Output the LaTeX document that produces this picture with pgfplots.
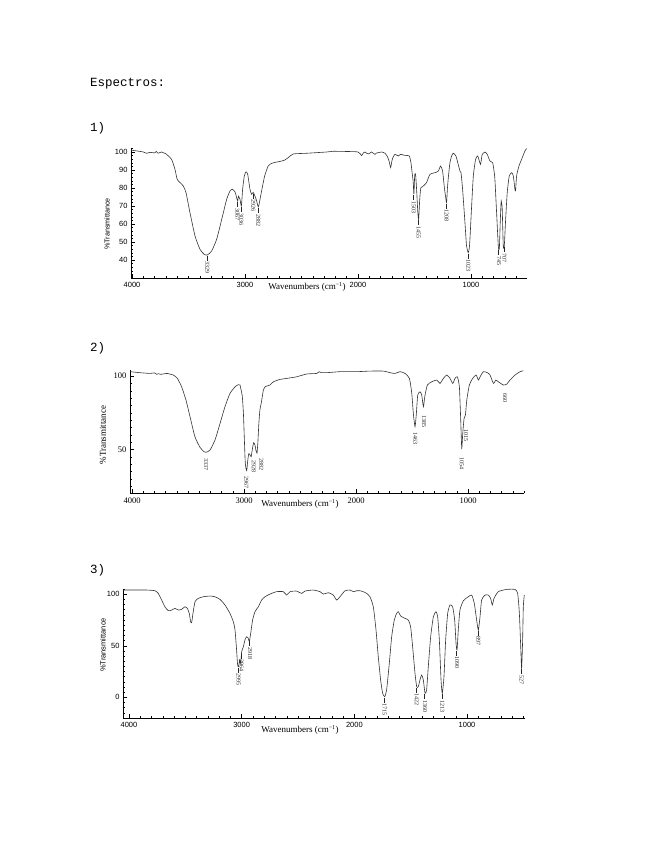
\documentclass[border=0pt]{standalone}
\usepackage{fontspec}
\setmainfont{Liberation Serif}
\setsansfont{Liberation Sans}
\setmonofont{Liberation Mono}
\usepackage{pgfplots}
\pgfplotsset{compat=1.18}
\pgfplotsset{
  irbase/.style={
    scale only axis,
    anchor=south west,
    x dir=reverse,
    axis x line=bottom,
    axis y line=left,
    axis line style={-, line width=0.5pt, black},
    tick align=inside,
    major tick length=4pt,
    minor tick length=2pt,
    tick style={line width=0.4pt, black},
    xtick={1000,2000,3000,4000},
    xticklabels={1000,2000,3000,4000},
    minor xtick={500,600,...,4000},
    scaled x ticks=false,
    scaled y ticks=false,
    clip=false,
    /pgf/number format/assume math mode=true,
  },
  spec/.style={line width=0.6pt, black!80, smooth, tension=0.35, mark=none},
}
\tikzset{
  lab/.style={rotate=-90, anchor=west, inner sep=0.4pt, font=\fontsize{6}{7}\selectfont, text=black!85},
}
\newcommand{\pkln}{\rule[0.22em]{5pt}{0.4pt}\,}
\begin{document}
\begin{tikzpicture}
\path[use as bounding box] (0pt,0pt) rectangle (655pt,848pt);
\node[anchor=base west, inner sep=0, font=\ttfamily\fontsize{12.5}{14}\selectfont] at (90pt,761pt) {Espectros:};
\node[anchor=base west, inner sep=0, font=\ttfamily\fontsize{12.5}{14}\selectfont] at (90pt,716pt) {1)};
\node[anchor=base west, inner sep=0, font=\ttfamily\fontsize{12.5}{14}\selectfont] at (90pt,496pt) {2)};
\node[anchor=base west, inner sep=0, font=\ttfamily\fontsize{12.5}{14}\selectfont] at (90pt,274pt) {3)};

% ---------------- Spectrum 1 ----------------
\begin{axis}[irbase, at={(131pt,570pt)}, width=396pt, height=129.6pt,
  xmin=504, xmax=4009, ymin=30, ymax=102,
  ytick={40,50,...,100}, minor ytick={30,32,...,102},
  ticklabel style={font=\sffamily\fontsize{7.5}{8}\selectfont},
  xticklabel style={yshift=-1pt},
]
\addplot[spec] coordinates {
(4009,101) (3959,100.6) (3900,100) (3870,99.3) (3840,99.8) (3800,99.5) (3785,100.3) (3770,99.3)
(3740,100) (3723,99.6) (3700,99) (3650,95.9) (3620,90.4) (3600,84.8) (3575,83) (3546,81.1)
(3522,77.4) (3487,66.3) (3442,53.3) (3398,45.9) (3360,43.1) (3333,42.8) (3295,45) (3251,51.5)
(3206,62.6) (3162,73.7) (3133,78.3) (3112,79.3) (3088,77.8) (3074,74.6) (3065,72.8) (3058,75.5)
(3050,74.5) (3044,73.7) (3032,70) (3021,79.3) (3006,86.7) (2991,89) (2976,87.6) (2956,79.3)
(2941,76.5) (2928,77.6) (2915,76) (2900,73.5) (2882,69.5) (2870,72.8) (2850,79.3) (2826,86.7)
(2795,92.2) (2764,93.7) (2720,94.4) (2675,95) (2646,95.6) (2617,96.9) (2572,98.9) (2454,99.3)
(2277,100) (2218,100.4) (2041,100.2) (2000,100) (1980,99) (1967,98) (1952,99.5) (1938,100)
(1920,99.2) (1908,98.9) (1890,99.6) (1879,100) (1862,99.2) (1849,98.7) (1835,99.5) (1820,99.6)
(1791,100) (1761,99.3) (1740,97.5) (1725,95) (1711,91.3) (1700,95) (1690,97) (1673,98.7)
(1643,97.8) (1623,98.7) (1584,98.1) (1546,97.8) (1531,94) (1520,88) (1512,84) (1505,76.5)
(1498,87) (1490,87.5) (1480,78) (1470,66) (1463,62.6) (1455,72) (1450,76.5) (1443,80.2)
(1422,81.1) (1393,83) (1363,87.6) (1319,88.5) (1289,89.4) (1269,92.2) (1251,89.4) (1235,80)
(1224,75) (1216,71.9) (1208,80) (1200,86) (1186,94.1) (1170,98) (1156,99.3) (1133,97.8)
(1109,92.2) (1095,89) (1088,88.5) (1074,79.3) (1053,60.7) (1039,47.8) (1024,44.1) (1015,46.5)
(1009,51.5) (994,70) (979,86.7) (959,95.9) (941,97.8) (926,95) (915,93.1) (905,97) (900,98.7)
(876,100) (856,98.7) (832,95) (808,94.1) (795,89) (788,84.8) (773,66.3) (758,47.8) (749,46)
(741,60.7) (735,70) (732,72.8) (727,71) (723,68) (714,47.8) (705,47.8) (693,62.6) (679,77.4)
(661,86.7) (640,88.5) (625,86.7) (611,79.3) (605,78.5) (596,86.7) (575,92.2) (552,95.9)
(522,100.6) (507,101.9)
};
\node[lab] at (axis cs:3333,42.6) {\pkln 3329};
\node[lab] at (axis cs:3067,72.5) {\pkln 3067};
\node[lab] at (axis cs:3032,69.7) {\pkln 3036};
\node[lab] at (axis cs:2926,77.0) {\pkln 2926};
\node[lab] at (axis cs:2882,69.2) {\pkln 2882};
\node[lab] at (axis cs:1505,76.2) {\pkln 1503};
\node[lab] at (axis cs:1463,62.3) {\pkln 1455};
\node[lab] at (axis cs:1216,71.6) {\pkln 1208};
\node[lab] at (axis cs:1024,43.8) {\pkln 1023};
\node[lab] at (axis cs:752,45.7) {\pkln 745};
\node[lab] at (axis cs:705,47.5) {\pkln 707};
\end{axis}
\node[font=\fontsize{9}{10}\selectfont] at (307pt,561pt) {Wavenumbers (cm\textsuperscript{−1})};
\node[rotate=90, font=\sffamily\fontsize{7.2}{8}\selectfont] at (107pt,624pt) {\%Transmittance};

% ---------------- Spectrum 2 ----------------
\begin{axis}[irbase, at={(130pt,354.6pt)}, width=394pt, height=123.2pt,
  xmin=500, xmax=4018, ymin=20, ymax=104,
  ytick={50,100}, minor ytick={20,25,...,100},
  ticklabel style={font=\fontsize{8.5}{9}\selectfont},
  xticklabel style={yshift=-1pt},
]
\addplot[spec] coordinates {
(4017,103) (3929,102.3) (3839,101.8) (3800,102.2) (3780,101.2) (3765,101.6) (3740,101.2)
(3690,101.8) (3631,100.7) (3595,98.4) (3557,92.7) (3518,83.6) (3482,72.3) (3438,58.6)
(3393,51.4) (3357,48.4) (3339,48) (3304,49.5) (3259,56.4) (3214,67.7) (3170,79.1) (3125,88.2)
(3080,92.7) (3051,94.1) (3036,93.9) (3030,92) (3015,86) (3005,74) (2996,55) (2988,40)
(2976,35.5) (2968,41.5) (2958,47) (2948,46.5) (2936,45) (2926,50) (2914,54.5) (2902,53)
(2894,49.5) (2884,47.5) (2876,55) (2868,67) (2858,77) (2845,82) (2827,90.5) (2810,92.8)
(2798,93.2) (2768,93.9) (2738,96.1) (2679,97.7) (2619,98.4) (2530,99.5) (2441,101.4)
(2351,101.8) (2330,103) (2310,102.4) (2262,102.3) (2143,103) (1994,103) (1874,103.4)
(1755,103.4) (1696,102.3) (1651,101.8) (1607,103) (1562,101.8) (1523,98.4) (1502,88.2)
(1488,74.5) (1473,65.5) (1461,74.5) (1449,87) (1428,89.3) (1413,87) (1398,79.1) (1386,85.9)
(1363,93.9) (1324,96.1) (1279,97.3) (1250,95) (1220,98.4) (1190,100.7) (1160,98.4) (1136,95)
(1116,98.4) (1095,99.5) (1077,92.7) (1065,70) (1056,50.7) (1047,60.9) (1035,71.1) (1023,73.4)
(1011,83.6) (988,93.9) (958,98.4) (928,100.7) (907,97.3) (892,99.5) (863,103) (827,102.3)
(803,100.7) (773,95) (752,97.3) (729,96.1) (684,93.9) (654,94.5) (625,97.3) (580,100.7)
(535,103) (506,103.6)
};
\node[lab] at (axis cs:3339,44) {3337};
\node[lab] at (axis cs:2980,32) {2967};
\node[lab] at (axis cs:2912,43) {2928};
\node[lab] at (axis cs:2846,44) {2882};
\node[lab] at (axis cs:1471,62) {1463};
\node[lab] at (axis cs:1392,73.4) {1385};
\node[lab] at (axis cs:1056,45) {1054};
\node[lab] at (axis cs:1017,64.3) {1015};
\node[lab] at (axis cs:669,88.2) {660};
\end{axis}
\node[font=\fontsize{9}{10}\selectfont] at (300pt,344pt) {Wavenumbers (cm\textsuperscript{−1})};
\node[rotate=90, font=\fontsize{9}{10}\selectfont] at (103pt,413pt) {\%Transmittance};

% ---------------- Spectrum 3 ----------------
\begin{axis}[irbase, at={(123pt,130pt)}, width=402pt, height=129.1pt,
  xmin=486, xmax=4053, ymin=-20, ymax=105,
  ytick={0,50,100}, minor ytick={-20,-15,...,105},
  ticklabel style={font=\sffamily\fontsize{7.5}{8}\selectfont},
  xticklabel style={yshift=-1pt},
]
\addplot[spec] coordinates {
(4053,103.9) (3962,103.9) (3843,103.9) (3769,103.2) (3740,100.6) (3710,94.2) (3681,87.7)
(3651,83.9) (3621,84.5) (3592,86.1) (3562,84.5) (3533,85.2) (3503,87.7) (3482,86.1) (3465,81.3)
(3453,73.2) (3444,72.3) (3432,81.3) (3414,92.6) (3385,95.8) (3340,97.4) (3281,98.1) (3237,97.4)
(3192,94.8) (3148,89.4) (3104,81.3) (3074,73.2) (3059,65.2) (3045,45.8) (3036,31.3) (3027,29.7)
(3018,36.1) (3009,32.9) (3000,44.2) (2985,49) (2971,55.5) (2956,58.7) (2941,57.1) (2932,53.9)
(2920,61.9) (2903,74.8) (2882,82.9) (2852,87.7) (2823,94.2) (2793,97.4) (2749,100) (2690,102.3)
(2630,102.3) (2601,99) (2571,102.3) (2512,102.9) (2468,100.6) (2438,102.9) (2364,103.9)
(2305,102.3) (2275,100) (2231,101.3) (2187,99) (2157,94.2) (2128,97.4) (2083,103.2) (2039,103.9)
(2009,102.3) (1980,103.2) (1950,103.2) (1921,102.3) (1891,100.6) (1862,97.4) (1832,87.7)
(1808,65.2) (1788,39.4) (1767,16.8) (1749,3.9) (1731,0.6) (1714,7.1) (1690,32.9) (1669,58.7)
(1646,74.8) (1625,81.3) (1610,82.9) (1589,78.7) (1551,76.5) (1521,74.8) (1501,68.4) (1483,49)
(1462,23.2) (1447,10.3) (1433,10.3) (1418,16.8) (1403,21.6) (1388,16.8) (1373,3.9) (1359,7.1)
(1344,29.7) (1323,58.7) (1299,78.1) (1276,82.9) (1261,78.1) (1246,55.5) (1231,16.8) (1220,3.9)
(1205,20) (1190,55.5) (1172,81.3) (1152,89.4) (1128,87.7) (1110,74.8) (1098,52.3) (1089,45.8)
(1078,65.2) (1063,84.5) (1033,93.5) (989,97.4) (959,99) (936,91) (915,74.8) (900,65.2)
(885,78.1) (871,94.2) (841,99) (811,99) (791,95.8) (776,89.4) (761,95.8) (723,102.3)
(649,104.5) (575,104.5) (551,100.6) (536,81.3) (524,49) (516,28.1) (507,55.5) (501,87.7) (492,99)
};
\node[lab] at (axis cs:3027,29.4) {\pkln 2995};
\node[lab] at (axis cs:3000,43) {\pkln 2964};
\node[lab] at (axis cs:2926,55) {\pkln 2918};
\node[lab] at (axis cs:1731,0.3) {\pkln 1715};
\node[lab] at (axis cs:1445,9.9) {\pkln 1422};
\node[lab] at (axis cs:1373,3.6) {\pkln 1360};
\node[lab] at (axis cs:1220,3.6) {\pkln 1213};
\node[lab] at (axis cs:1089,45.5) {\pkln 1090};
\node[lab] at (axis cs:900,64.9) {\pkln 897};
\node[lab] at (axis cs:516,27.8) {\pkln 527};
\end{axis}
\node[font=\fontsize{9}{10}\selectfont] at (300pt,118pt) {Wavenumbers (cm\textsuperscript{−1})};
\node[rotate=90, font=\sffamily\fontsize{7.5}{8}\selectfont] at (103pt,203pt) {\%Transmittance};
\end{tikzpicture}
\end{document}
